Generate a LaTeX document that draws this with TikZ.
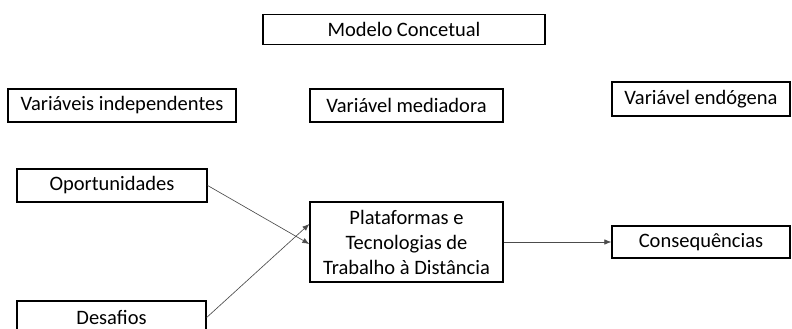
\documentclass[tikz,border=0pt]{standalone}
\usepackage{fontspec}
\setmainfont{Carlito}
\usetikzlibrary{arrows.meta}
\begin{document}
\begin{tikzpicture}[x=1pt,y=-1pt,
  box/.style={draw=black,line width=1.3pt,inner sep=0pt,align=center,
    font=\fontsize{20.5}{25}\selectfont,text=black},
  arr/.style={draw=black!70,line width=0.65pt,-{Latex[length=7pt,width=5.5pt]}}]
\useasboundingbox (0,0) rectangle (792,329);
\clip (0,0) rectangle (792,329);
\node[box,minimum width=282,minimum height=30] (mc) at (404,29.5) {Modelo Concetual};
\node[box,minimum width=228,minimum height=33] (vi) at (122,105.5) {Variáveis independentes};
\node[box,minimum width=193,minimum height=33] (vm) at (406.5,105.5) {Variável mediadora};
\node[box,minimum width=178,minimum height=34] (ve) at (701,99) {Variável endógena};
\node[box,minimum width=190,minimum height=33] (op) at (112,185.5) {Oportunidades};
\node[box,minimum width=193,minimum height=80] (pl) at (406.5,242) {Plataformas e\\Tecnologias de\\Trabalho à Distância};
\node[box,minimum width=178,minimum height=32] (co) at (701,242) {Consequências};
\node[box,minimum width=189,minimum height=33] (de) at (111.5,317.5) {Desafios};
\draw[arr] (op.east) -- ([yshift=-2pt]pl.west);
\draw[arr] (de.east) -- ([yshift=18pt]pl.west);
\draw[arr] (pl.east) -- (co.west);
\end{tikzpicture}
\end{document}
